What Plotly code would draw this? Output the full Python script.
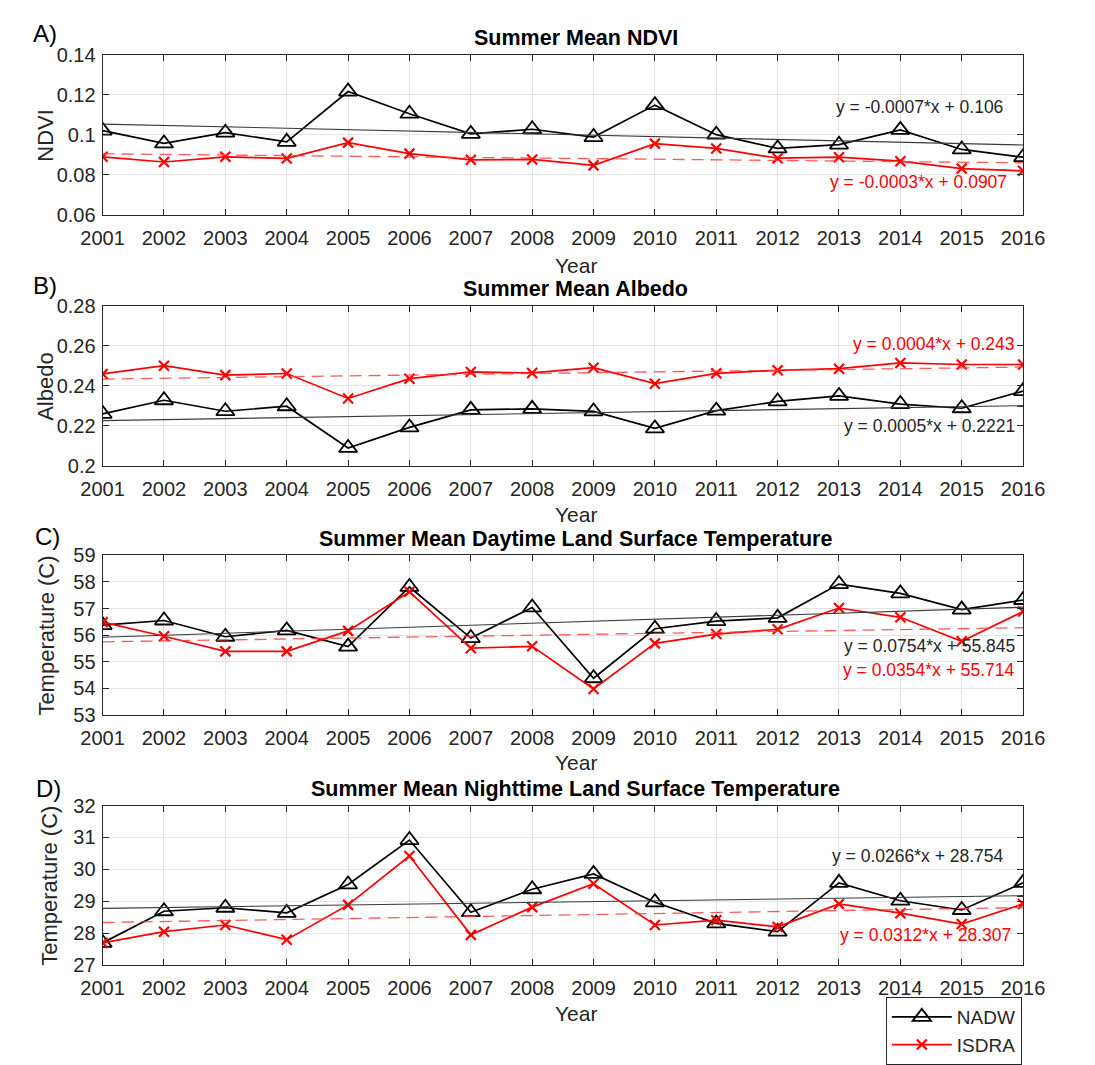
import plotly.graph_objects as go

# ---- data -------------------------------------------------------------
years = list(range(2001, 2017))

ndvi_nadw = [0.102, 0.0956, 0.101, 0.0964, 0.1216, 0.1105, 0.1004, 0.1027,
             0.0988, 0.1148, 0.100, 0.0931, 0.095, 0.1024, 0.0926, 0.0887]
ndvi_isdra = [0.0889, 0.0863, 0.0889, 0.0881, 0.0960, 0.0905, 0.0874, 0.0876,
              0.0846, 0.0955, 0.0931, 0.0882, 0.0887, 0.0867, 0.0830, 0.0819]

albedo_nadw = [0.226, 0.2328, 0.2273, 0.2298, 0.2089, 0.2192, 0.228, 0.2285,
               0.2272, 0.2187, 0.2276, 0.2322, 0.235, 0.2309, 0.2288, 0.2374]
albedo_isdra = [0.246, 0.2501, 0.2454, 0.2462, 0.2337, 0.2436, 0.247, 0.2465,
                0.2491, 0.2411, 0.2463, 0.2478, 0.2486, 0.2515, 0.2507, 0.2507]

lst_day_nadw = [56.38, 56.55, 55.94, 56.18, 55.57, 57.81, 55.89, 57.04,
                54.38, 56.24, 56.53, 56.65, 57.92, 57.57, 56.96, 57.32]
lst_day_isdra = [56.49, 55.96, 55.39, 55.39, 56.16, 57.63, 55.51, 55.58,
                 53.98, 55.69, 56.04, 56.22, 57.02, 56.67, 55.77, 56.89]

lst_night_nadw = [27.70, 28.69, 28.80, 28.64, 29.53, 30.92, 28.66, 29.38,
                  29.86, 28.97, 28.31, 28.05, 29.58, 29.02, 28.73, 29.58]
lst_night_isdra = [27.70, 28.05, 28.26, 27.80, 28.89, 30.42, 27.95, 28.82,
                   29.55, 28.26, 28.41, 28.20, 28.92, 28.63, 28.29, 28.92]

# linear trend coefficients (x = 1 .. 16)
nadw_slope = [-0.0007, 0.0005, 0.0754, 0.0266]
nadw_intercept = [0.106, 0.2221, 55.845, 28.754]
isdra_slope = [-0.0003, 0.0004, 0.0354, 0.0312]
isdra_intercept = [0.0907, 0.243, 55.714, 28.307]

titles = ["Summer Mean NDVI", "Summer Mean Albedo",
          "Summer Mean Daytime Land Surface Temperature",
          "Summer Mean Nighttime Land Surface Temperature"]
panel_tags = ["A)", "B)", "C)", "D)"]
x_title = "Year"
y_titles = ["NDVI", "Albedo", "Temperature (C)", "Temperature (C)"]
y_tickvals = [[0.06, 0.08, 0.1, 0.12, 0.14],
              [0.2, 0.22, 0.24, 0.26, 0.28],
              [53, 54, 55, 56, 57, 58, 59],
              [27, 28, 29, 30, 31, 32]]
y_ticktext = [["0.06", "0.08", "0.1", "0.12", "0.14"],
              ["0.2", "0.22", "0.24", "0.26", "0.28"],
              ["53", "54", "55", "56", "57", "58", "59"],
              ["27", "28", "29", "30", "31", "32"]]

nadw_series = [ndvi_nadw, albedo_nadw, lst_day_nadw, lst_night_nadw]
isdra_series = [ndvi_isdra, albedo_isdra, lst_day_isdra, lst_night_isdra]

# ---- layout geometry (pixels) -------------------------------------------
W, H = 1095, 1065
x_left, x_right = 84, 1043
panel_tops = [45, 303, 559, 816]
panel_height = 164
label_center_x = 577            # centre used for titles and "Year" labels
year_label_y = [261, 517, 772, 1030]
y_title_x = [25, 25, 25.5, 28.5]
tag_pos = [(9, 23), (9, 282), (11, 540), (12, 798)]
# equation labels: (y NADW, y ISDRA, right edge NADW, right edge ISDRA)
eq_pos = [(99, 176, 1024, 1028), (426, 342, 1037, 1037),
          (652, 677, 1037, 1037), (868, 949, 1025, 1032)]

FONT = "Liberation Sans, Arial, Helvetica, sans-serif"
TXT = "#262626"

fig = go.Figure()
layout = dict(
    width=W, height=H, margin=dict(l=0, r=0, t=0, b=0),
    paper_bgcolor="white", plot_bgcolor="white",
    font=dict(family=FONT, size=20, color=TXT),
    annotations=[],
)


def eq_text(slope, intercept):
    return "y = %s*x + %s" % (("%g" % slope), ("%g" % intercept))


def px_annotation(text, x, y, size, color, xanchor="center", bold=False,
                  angle=0):
    return dict(text=("<b>%s</b>" % text) if bold else text,
                xref="paper", yref="paper", x=x / W, y=1 - y / H,
                xanchor=xanchor, yanchor="middle", showarrow=False,
                textangle=angle,
                font=dict(family=FONT, size=size, color=color))


for i in range(4):
    sfx = "" if i == 0 else str(i + 1)
    xa, ya = "x" + sfx, "y" + sfx
    top = panel_tops[i]
    bottom = top + panel_height
    dom_y = [1 - bottom / H, 1 - top / H]

    fig.add_trace(go.Scatter(
        x=years, y=nadw_series[i], xaxis=xa, yaxis=ya, name="NADW",
        mode="lines+markers", showlegend=(i == 0),
        line=dict(color="black", width=1.7),
        marker=dict(symbol="triangle-up-open", size=16, color="black",
                    line=dict(width=1.8, color="black"))))
    fig.add_trace(go.Scatter(
        x=years, y=isdra_series[i], xaxis=xa, yaxis=ya, name="ISDRA",
        mode="lines+markers", showlegend=(i == 0),
        line=dict(color="#ff0000", width=1.7),
        marker=dict(symbol="x-thin", size=10, color="#ff0000",
                    line=dict(width=2.2, color="#ff0000"))))

    # trend lines from the fitted coefficients, x counted from 1 at 2001
    tx = [years[0], years[-1]]
    idx = [years[0] - 2000, years[-1] - 2000]
    fig.add_trace(go.Scatter(
        x=tx, y=[nadw_slope[i] * k + nadw_intercept[i] for k in idx],
        xaxis=xa, yaxis=ya, mode="lines", showlegend=False,
        line=dict(color="#3a3a3a", width=1.1), hoverinfo="skip"))
    fig.add_trace(go.Scatter(
        x=tx, y=[isdra_slope[i] * k + isdra_intercept[i] for k in idx],
        xaxis=xa, yaxis=ya, mode="lines", showlegend=False,
        line=dict(color="rgba(255,60,60,0.85)", width=1.3, dash="12px,7px"),
        hoverinfo="skip"))

    axis_common = dict(
        showline=True, linecolor=TXT, linewidth=1, mirror="ticks",
        ticks="inside", ticklen=6, tickcolor=TXT, tickwidth=1,
        showgrid=True, gridcolor="#e4e4e4", gridwidth=1, zeroline=False,
        tickfont=dict(family=FONT, size=20, color=TXT),
    )
    layout["xaxis" + sfx] = dict(
        axis_common, domain=[x_left / W, x_right / W], anchor=ya,
        range=[2001, 2016], tickvals=years, ticktext=[str(y) for y in years],
        ticklabelstandoff=5)
    layout["yaxis" + sfx] = dict(
        axis_common, domain=dom_y, anchor=xa,
        range=[y_tickvals[i][0], y_tickvals[i][-1]],
        tickvals=y_tickvals[i], ticktext=y_ticktext[i],
        ticklabelstandoff=2)

    ann = layout["annotations"]
    ann.append(px_annotation(titles[i], label_center_x, top - 17, 21.5,
                             "black", bold=True))
    ann.append(px_annotation(x_title, label_center_x, year_label_y[i], 21,
                             TXT))
    ann.append(px_annotation(y_titles[i], y_title_x[i],
                             top + panel_height / 2, 22, TXT, angle=-90))
    tx_px, ty_px = tag_pos[i]
    ann.append(px_annotation(panel_tags[i], tx_px, ty_px, 24, "black",
                             xanchor="left"))

    # regression equations
    yb, yr, rb, rr = eq_pos[i]
    ann.append(px_annotation(eq_text(nadw_slope[i], nadw_intercept[i]),
                             rb, yb, 17.5, TXT, xanchor="right"))
    ann.append(px_annotation(eq_text(isdra_slope[i], isdra_intercept[i]),
                             rr, yr, 17.5, "#ff0000", xanchor="right"))

layout["legend"] = dict(
    x=900 / W, y=1 - 1013 / H, xanchor="left", yanchor="top",
    bordercolor=TXT, borderwidth=1, bgcolor="white",
    font=dict(family=FONT, size=19, color=TXT), tracegroupgap=0,
    itemwidth=60)
fig.update_layout(**layout)

fig.write_html("out.html")
